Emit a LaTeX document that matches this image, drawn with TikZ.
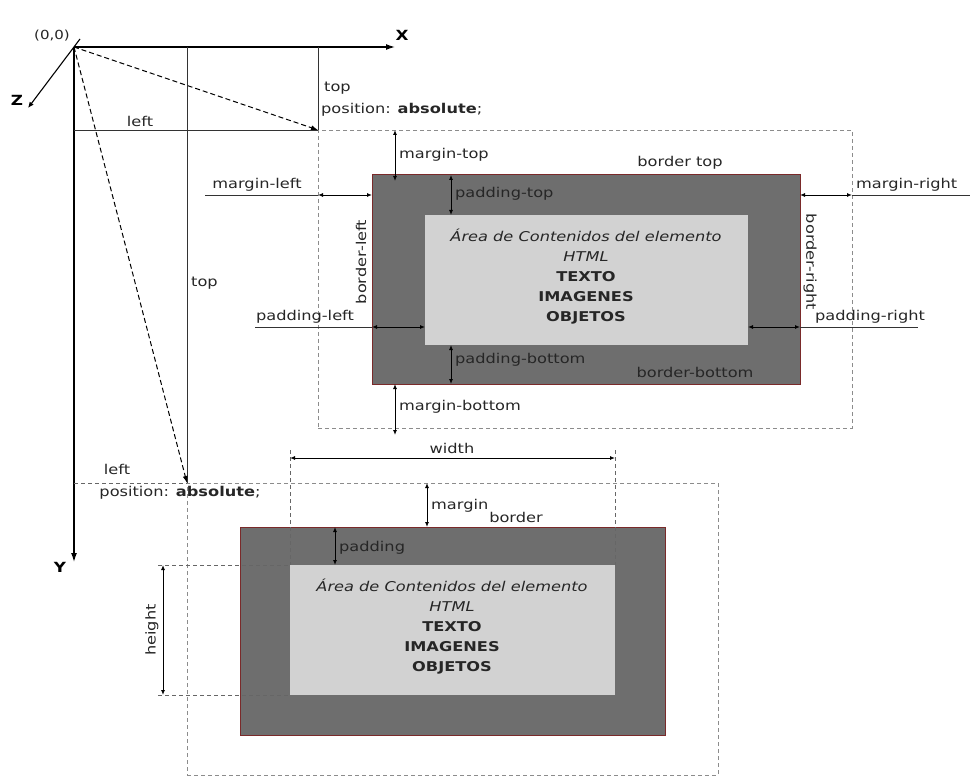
\documentclass[tikz,border=0pt]{standalone}
\usepackage{fontspec}
\setmainfont[FakeStretch=1.2]{DejaVu Sans}
\usetikzlibrary{arrows.meta}
\definecolor{bordergray}{HTML}{6E6E6E}
\definecolor{borderred}{HTML}{7A2A2A}
\definecolor{contentgray}{HTML}{D2D2D2}
\definecolor{linegray}{HTML}{555555}
\begin{document}
\begin{tikzpicture}[x=1pt,y=-1pt,
  lbl/.style={font=\fontsize{13.5}{20}\selectfont, inner sep=1pt, text=black!85},
  axlbl/.style={font=\fontsize{14}{16}\selectfont\bfseries, inner sep=1pt},
  axis/.style={line width=1.3pt, -{Latex[length=9pt,width=6pt]}},
  thinline/.style={line width=0.7pt, draw=linegray},
  mbox/.style={draw=black!45, line width=0.7pt, dash pattern=on 4pt off 3pt},
  extline/.style={draw=black!60, line width=0.8pt, dash pattern=on 4pt off 3pt},
  dimarr/.style={line width=0.9pt, {Latex[length=5pt,width=4pt]}-{Latex[length=5pt,width=4pt]}},
  guide/.style={line width=0.9pt, draw=black!80},
  diag/.style={line width=1pt, dash pattern=on 5pt off 3pt, -{Latex[length=7pt,width=5pt]}},
  borderbox/.style={draw=borderred, line width=1pt, fill=bordergray, inner sep=0pt},
  contentbox/.style={fill=contentgray, inner sep=0pt},
  content/.style={font=\fontsize{13.5}{20}\selectfont, align=center, text=black!85}
]
\useasboundingbox (0,0) rectangle (970,778);

% ---------- top element ----------
\node[mbox, minimum width=534pt, minimum height=298pt, inner sep=0pt] (m1) at (585,279) {};
\node[borderbox, minimum width=428pt, minimum height=209pt] (b1) at (586,279.5) {};
\node[contentbox, minimum width=323pt, minimum height=130pt] (c1) at (586.5,280) {};
\node[content] (t1) at (586,277) {\itshape Área de Contenidos del elemento\\ \itshape HTML\\ \bfseries TEXTO\\ \bfseries IMAGENES\\ \bfseries OBJETOS};

% ---------- bottom element ----------
\node[mbox, minimum width=531pt, minimum height=292pt, inner sep=0pt] (m2) at (452.5,629) {};
\node[borderbox, minimum width=425pt, minimum height=208pt] (b2) at (452.5,631) {};
\node[contentbox, minimum width=325pt, minimum height=130pt] (c2) at (452.5,630) {};
\node[content] (t2) at (452,627) {\itshape Área de Contenidos del elemento\\ \itshape HTML\\ \bfseries TEXTO\\ \bfseries IMAGENES\\ \bfseries OBJETOS};

% ---------- axes ----------
\coordinate (O) at (74,47);
\coordinate (xend) at (395,47);
\coordinate (yend) at (74,562);
\coordinate (zstart) at (80,39);
\coordinate (zend) at (28,108);
\draw[axis] (O) -- (xend);
\draw[axis] (O) -- (yend);
\draw[line width=1.1pt, -{Latex[length=6pt,width=5pt]}] (zstart) -- (zend);
\node[axlbl] (lx) at (402,35) {X};
\node[axlbl] (ly) at (60,567) {Y};
\node[axlbl] (lz) at (17,100) {Z};
\node[lbl, font=\fontsize{12.5}{14}\selectfont] (l00) at (52,36) {(0,0)};

% guide lines for first element
\coordinate (t1a) at (318,47);
\coordinate (t1b) at (318,130);
\coordinate (l1a) at (74,130);
\draw[guide] (t1a) -- (t1b);
\draw[guide] (l1a) -- (t1b);
\draw[diag] (O) -- (t1b);
\node[lbl, anchor=west] (ltop1) at (323,88) {top};
\node[lbl] (lleft1) at (140,121) {left};
\node[lbl, anchor=west] (pos1) at (320,110) {position: \textbf{absolute};};

% guide lines for second element
\coordinate (t2a) at (187,47);
\coordinate (t2b) at (187,483);
\coordinate (l2a) at (74,483);
\draw[guide] (t2a) -- (t2b);
\draw[extline] (l2a) -- (t2b);
\draw[diag] (O) -- (t2b);
\node[lbl, anchor=west] (ltop2) at (190,283) {top};
\node[lbl] (lleft2) at (117,469) {left};
\node[lbl] (pos2) at (180,493) {position: \textbf{absolute};};

% ---------- dimensions of top element ----------
% margin-top
\coordinate (mt1) at (395,130);
\coordinate (mt2) at (395,181);
\draw[dimarr] (mt1) -- (mt2);
\node[lbl, anchor=west] (lmt) at (398,155) {margin-top};
\node[lbl] (lbt) at (680,163) {border top};
% margin-left
\coordinate (ml0) at (205,195);
\coordinate (ml1) at (318,195);
\coordinate (ml2) at (372,195);
\draw[guide] (ml0) -- (ml1);
\draw[dimarr] (ml1) -- (ml2);
\node[lbl] (lml) at (257,185) {margin-left};
% margin-right
\coordinate (mr1) at (800,195);
\coordinate (mr2) at (852,195);
\coordinate (mr3) at (975,195);
\draw[dimarr] (mr1) -- (mr2);
\draw[guide] (mr2) -- (mr3);
\node[lbl, anchor=west] (lmr) at (855,185) {margin-right};
% padding-top
\coordinate (pt1) at (451,175);
\coordinate (pt2) at (451,215);
\draw[dimarr] (pt1) -- (pt2);
\node[lbl, anchor=west] (lpt) at (454,194) {padding-top};
% border-left / right
\node[lbl, rotate=90] (lbl1) at (361,262) {border-left};
\node[lbl, rotate=-90] (lbr1) at (810,262) {border-right};
% padding-left
\coordinate (pl0) at (255,327);
\coordinate (pl1) at (372,327);
\coordinate (pl2) at (425,327);
\draw[guide] (pl0) -- (pl1);
\draw[dimarr] (pl1) -- (pl2);
\node[lbl] (lpl) at (305,317) {padding-left};
% padding-right
\coordinate (pr1) at (748,327);
\coordinate (pr2) at (800,327);
\coordinate (pr3) at (918,327);
\draw[dimarr] (pr1) -- (pr2);
\draw[guide] (pr2) -- (pr3);
\node[lbl] (lpr) at (870,317) {padding-right};
% padding-bottom
\coordinate (pb1) at (451,345);
\coordinate (pb2) at (451,384);
\draw[dimarr] (pb1) -- (pb2);
\node[lbl, anchor=west] (lpb) at (454,360) {padding-bottom};
\node[lbl] (lbb) at (695,372) {border-bottom};
% margin-bottom
\coordinate (mb1) at (395,384);
\coordinate (mb2) at (395,435);
\draw[dimarr] (mb1) -- (mb2);
\node[lbl, anchor=west] (lmb) at (398,407) {margin-bottom};

% ---------- dimensions of bottom element ----------
% width
\coordinate (w1) at (290,458);
\coordinate (w2) at (615,458);
\coordinate (w1b) at (290,565);
\coordinate (w2b) at (615,565);
\coordinate (w1t) at (290,450);
\coordinate (w2t) at (615,450);
\draw[extline] (w1t) -- (w1b);
\draw[extline] (w2t) -- (w2b);
\draw[dimarr] (w1) -- (w2);
\node[lbl] (lw) at (452,448) {width};
% margin
\coordinate (mg1) at (427,483);
\coordinate (mg2) at (427,527);
\draw[dimarr] (mg1) -- (mg2);
\node[lbl, anchor=west] (lmg) at (430,506) {margin};
\node[lbl] (lbd) at (516,517) {border};
% padding
\coordinate (pd1) at (335,527);
\coordinate (pd2) at (335,565);
\draw[dimarr] (pd1) -- (pd2);
\node[lbl, anchor=west] (lpd) at (338,548) {padding};
% height
\coordinate (h1) at (163,565);
\coordinate (h2) at (163,695);
\coordinate (h1e) at (158,565);
\coordinate (h2e) at (158,695);
\coordinate (h1c) at (290,565);
\coordinate (h2c) at (290,695);
\draw[extline] (h1e) -- (h1c);
\draw[extline] (h2e) -- (h2c);
\draw[dimarr] (h1) -- (h2);
\node[lbl, rotate=90] (lh) at (152,630) {height};
\end{tikzpicture}
\end{document}
